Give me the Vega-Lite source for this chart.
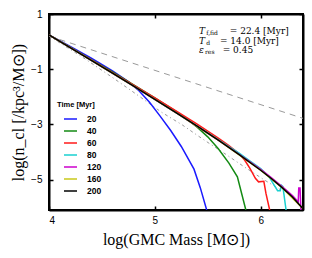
{
  "$schema": "https://vega.github.io/schema/vega-lite/v6.json",
  "width": 254,
  "height": 196,
  "autosize": "none",
  "padding": {"left": 49, "top": 14, "right": 9, "bottom": 48},
  "config": {
    "view": {"stroke": "black", "strokeWidth": 2},
    "axis": {"grid": false, "domainColor": "black", "domainWidth": 2, "tickColor": "black", "tickWidth": 1.5, "labelFont": "Liberation Sans", "labelFontSize": 10, "labelColor": "black", "titleFont": "Liberation Serif", "titleFontSize": 16, "titleFontWeight": "normal", "titleColor": "black"},
    "legend": {"orient": "none", "legendX": 8, "legendY": 87, "padding": 0, "titleFont": "Liberation Sans", "titleFontSize": 7.5, "titleFontWeight": "bold", "titleColor": "black", "titlePadding": 3, "labelFont": "Liberation Sans", "labelFontSize": 8.5, "labelFontWeight": "bold", "labelColor": "black", "symbolType": "stroke", "symbolSize": 169, "symbolStrokeWidth": 1.5, "symbolOffset": 6, "labelOffset": 9, "rowPadding": 0}
  },
  "datasets": {
    "ann": [
      {"x": 5.417, "y": 0.37, "t": "T", "k": "it"},
      {"x": 5.485, "y": 0.37, "t": "f,fid", "k": "sub"},
      {"x": 5.708, "y": 0.37, "t": "= 22.4 [Myr]", "k": "rm"},
      {"x": 5.417, "y": 0.033, "t": "T", "k": "it"},
      {"x": 5.485, "y": 0.033, "t": "d", "k": "sub"},
      {"x": 5.615, "y": 0.033, "t": "= 14.0 [Myr]", "k": "rm"},
      {"x": 5.417, "y": -0.31, "t": "ε", "k": "it"},
      {"x": 5.474, "y": -0.31, "t": "res", "k": "sub"},
      {"x": 5.641, "y": -0.31, "t": "= 0.45", "k": "rm"}
    ],
    "ref": [
      {"s": "ref1", "m": 4.0, "v": 0.2},
      {"s": "ref1", "m": 6.4, "v": -2.78},
      {"s": "ref2", "m": 4.0, "v": 0.2},
      {"s": "ref2", "m": 4.3, "v": -0.52},
      {"s": "ref2", "m": 4.6, "v": -1.3},
      {"s": "ref2", "m": 4.86, "v": -2.0},
      {"s": "ref2", "m": 5.06, "v": -2.55},
      {"s": "ref2", "m": 5.26, "v": -3.02},
      {"s": "ref2", "m": 5.46, "v": -3.55},
      {"s": "ref2", "m": 5.65, "v": -4.03},
      {"s": "ref2", "m": 5.85, "v": -4.55},
      {"s": "ref2", "m": 6.03, "v": -5.0},
      {"s": "ref2", "m": 6.2, "v": -5.4}
    ],
    "curves": [
      {"s": "20", "m": 4.0, "v": 0.24},
      {"s": "20", "m": 4.2, "v": -0.17},
      {"s": "20", "m": 4.4, "v": -0.6},
      {"s": "20", "m": 4.6, "v": -1.06},
      {"s": "20", "m": 4.75, "v": -1.45},
      {"s": "20", "m": 4.85, "v": -1.78},
      {"s": "20", "m": 4.95, "v": -2.2},
      {"s": "20", "m": 5.05, "v": -2.7},
      {"s": "20", "m": 5.15, "v": -3.22},
      {"s": "20", "m": 5.25, "v": -3.8},
      {"s": "20", "m": 5.37, "v": -4.62},
      {"s": "20", "m": 5.43, "v": -5.3},
      {"s": "20", "m": 5.49, "v": -6.1},
      {"s": "40", "m": 4.0, "v": 0.24},
      {"s": "40", "m": 4.2, "v": -0.2},
      {"s": "40", "m": 4.4, "v": -0.65},
      {"s": "40", "m": 4.6, "v": -1.1},
      {"s": "40", "m": 4.8, "v": -1.57},
      {"s": "40", "m": 5.0, "v": -2.04},
      {"s": "40", "m": 5.2, "v": -2.53},
      {"s": "40", "m": 5.3, "v": -2.8},
      {"s": "40", "m": 5.4, "v": -3.1},
      {"s": "40", "m": 5.5, "v": -3.45},
      {"s": "40", "m": 5.6, "v": -3.88},
      {"s": "40", "m": 5.7, "v": -4.4},
      {"s": "40", "m": 5.78, "v": -4.9},
      {"s": "40", "m": 5.86, "v": -6.1},
      {"s": "60", "m": 4.0, "v": 0.24},
      {"s": "60", "m": 4.2, "v": -0.21},
      {"s": "60", "m": 4.4, "v": -0.66},
      {"s": "60", "m": 4.6, "v": -1.12},
      {"s": "60", "m": 4.8, "v": -1.58},
      {"s": "60", "m": 5.0, "v": -2.04},
      {"s": "60", "m": 5.2, "v": -2.51},
      {"s": "60", "m": 5.4, "v": -2.99},
      {"s": "60", "m": 5.6, "v": -3.5},
      {"s": "60", "m": 5.7, "v": -3.77},
      {"s": "60", "m": 5.8, "v": -4.07},
      {"s": "60", "m": 5.85, "v": -4.3},
      {"s": "60", "m": 5.9, "v": -4.6},
      {"s": "60", "m": 5.95, "v": -4.95},
      {"s": "60", "m": 5.98, "v": -5.08},
      {"s": "60", "m": 6.03, "v": -5.06},
      {"s": "60", "m": 6.05, "v": -5.5},
      {"s": "60", "m": 6.085, "v": -6.1},
      {"s": "80", "m": 4.0, "v": 0.24},
      {"s": "80", "m": 4.4, "v": -0.68},
      {"s": "80", "m": 4.8, "v": -1.61},
      {"s": "80", "m": 5.2, "v": -2.57},
      {"s": "80", "m": 5.6, "v": -3.55},
      {"s": "80", "m": 5.7, "v": -3.8},
      {"s": "80", "m": 5.8, "v": -4.05},
      {"s": "80", "m": 5.9, "v": -4.33},
      {"s": "80", "m": 6.0, "v": -4.6},
      {"s": "80", "m": 6.08, "v": -4.9},
      {"s": "80", "m": 6.12, "v": -5.15},
      {"s": "80", "m": 6.16, "v": -5.4},
      {"s": "80", "m": 6.185, "v": -5.4},
      {"s": "80", "m": 6.195, "v": -5.2},
      {"s": "80", "m": 6.21, "v": -5.25},
      {"s": "80", "m": 6.24, "v": -6.1},
      {"s": "120", "m": 4.0, "v": 0.24},
      {"s": "120", "m": 4.4, "v": -0.68},
      {"s": "120", "m": 4.8, "v": -1.61},
      {"s": "120", "m": 5.2, "v": -2.57},
      {"s": "120", "m": 5.6, "v": -3.57},
      {"s": "120", "m": 5.8, "v": -4.09},
      {"s": "120", "m": 6.0, "v": -4.63},
      {"s": "120", "m": 6.1, "v": -4.93},
      {"s": "120", "m": 6.2, "v": -5.24},
      {"s": "120", "m": 6.3, "v": -5.58},
      {"s": "120", "m": 6.35, "v": -5.78},
      {"s": "120", "m": 6.355, "v": -5.8},
      {"s": "120", "m": 6.36, "v": -5.3},
      {"s": "120", "m": 6.372, "v": -5.3},
      {"s": "120", "m": 6.38, "v": -6.1},
      {"s": "160", "m": 4.0, "v": 0.24},
      {"s": "160", "m": 4.4, "v": -0.68},
      {"s": "160", "m": 4.8, "v": -1.61},
      {"s": "160", "m": 5.2, "v": -2.57},
      {"s": "160", "m": 5.6, "v": -3.57},
      {"s": "160", "m": 6.0, "v": -4.66},
      {"s": "160", "m": 6.2, "v": -5.28},
      {"s": "160", "m": 6.4, "v": -6.05},
      {"s": "200", "m": 4.0, "v": 0.24},
      {"s": "200", "m": 4.2, "v": -0.22},
      {"s": "200", "m": 4.4, "v": -0.68},
      {"s": "200", "m": 4.6, "v": -1.14},
      {"s": "200", "m": 4.8, "v": -1.61},
      {"s": "200", "m": 5.0, "v": -2.09},
      {"s": "200", "m": 5.2, "v": -2.57},
      {"s": "200", "m": 5.4, "v": -3.06},
      {"s": "200", "m": 5.6, "v": -3.57},
      {"s": "200", "m": 5.8, "v": -4.1},
      {"s": "200", "m": 6.0, "v": -4.66},
      {"s": "200", "m": 6.1, "v": -4.96},
      {"s": "200", "m": 6.2, "v": -5.28},
      {"s": "200", "m": 6.3, "v": -5.63},
      {"s": "200", "m": 6.4, "v": -6.05}
    ]
  },
  "resolve": {"axis": {"x": "independent", "y": "independent"}},
  "layer": [
    {
      "data": {"name": "ref"},
      "mark": {"type": "line", "clip": true, "strokeWidth": 1, "color": "#9a9a9a"},
      "encoding": {
        "x": {"field": "m", "type": "quantitative", "scale": {"domain": [4, 6.4], "nice": false, "zero": false}, "axis": {"orient": "bottom", "values": [4, 5, 6], "format": "d", "tickSize": -4, "labelPadding": 9, "title": "log(GMC Mass [M⊙])", "titlePadding": 6}},
        "y": {"field": "v", "type": "quantitative", "scale": {"domain": [-6.1, 1], "nice": false, "zero": false}, "axis": {"orient": "left", "values": [1, -1, -3, -5], "format": "d", "tickSize": -4, "labelPadding": 11, "title": "log(n_cl [/kpc³/M⊙])", "titlePadding": 4}},
        "strokeDash": {"field": "s", "type": "nominal", "scale": {"domain": ["ref1", "ref2"], "range": [[6, 5], [3, 3, 1, 3]]}, "legend": null}
      }
    },
    {
      "data": {"name": "curves"},
      "mark": {"type": "line", "clip": true, "strokeWidth": 1.5},
      "encoding": {
        "x": {"field": "m", "type": "quantitative", "axis": {"orient": "top", "values": [4, 5, 6], "labels": false, "tickSize": -4, "title": null}},
        "y": {"field": "v", "type": "quantitative", "axis": {"orient": "right", "values": [1, -1, -3, -5], "labels": false, "tickSize": -4, "title": null}},
        "color": {"field": "s", "type": "nominal", "title": "Time [Myr]", "scale": {"domain": ["20", "40", "60", "80", "120", "160", "200"], "range": ["#1a1aff", "#138a13", "#ff1a1a", "#1ad0d0", "#cc00cc", "#c8c81a", "#000000"]}}
      }
    },
    {
      "data": {"name": "ann"},
      "transform": [{"filter": "datum.k == 'it'"}],
      "mark": {"type": "text", "align": "left", "baseline": "middle", "font": "DejaVu Serif", "fontSize": 9, "fontStyle": "italic"},
      "encoding": {
        "x": {"field": "x", "type": "quantitative", "axis": null},
        "y": {"field": "y", "type": "quantitative", "axis": null},
        "text": {"field": "t"}
      }
    },
    {
      "data": {"name": "ann"},
      "transform": [{"filter": "datum.k == 'sub'"}],
      "mark": {"type": "text", "align": "left", "baseline": "middle", "font": "DejaVu Serif", "fontSize": 6, "dy": 2},
      "encoding": {
        "x": {"field": "x", "type": "quantitative", "axis": null},
        "y": {"field": "y", "type": "quantitative", "axis": null},
        "text": {"field": "t"}
      }
    },
    {
      "data": {"name": "ann"},
      "transform": [{"filter": "datum.k == 'rm'"}],
      "mark": {"type": "text", "align": "left", "baseline": "middle", "font": "DejaVu Serif", "fontSize": 9},
      "encoding": {
        "x": {"field": "x", "type": "quantitative", "axis": null},
        "y": {"field": "y", "type": "quantitative", "axis": null},
        "text": {"field": "t"}
      }
    }
  ]
}
